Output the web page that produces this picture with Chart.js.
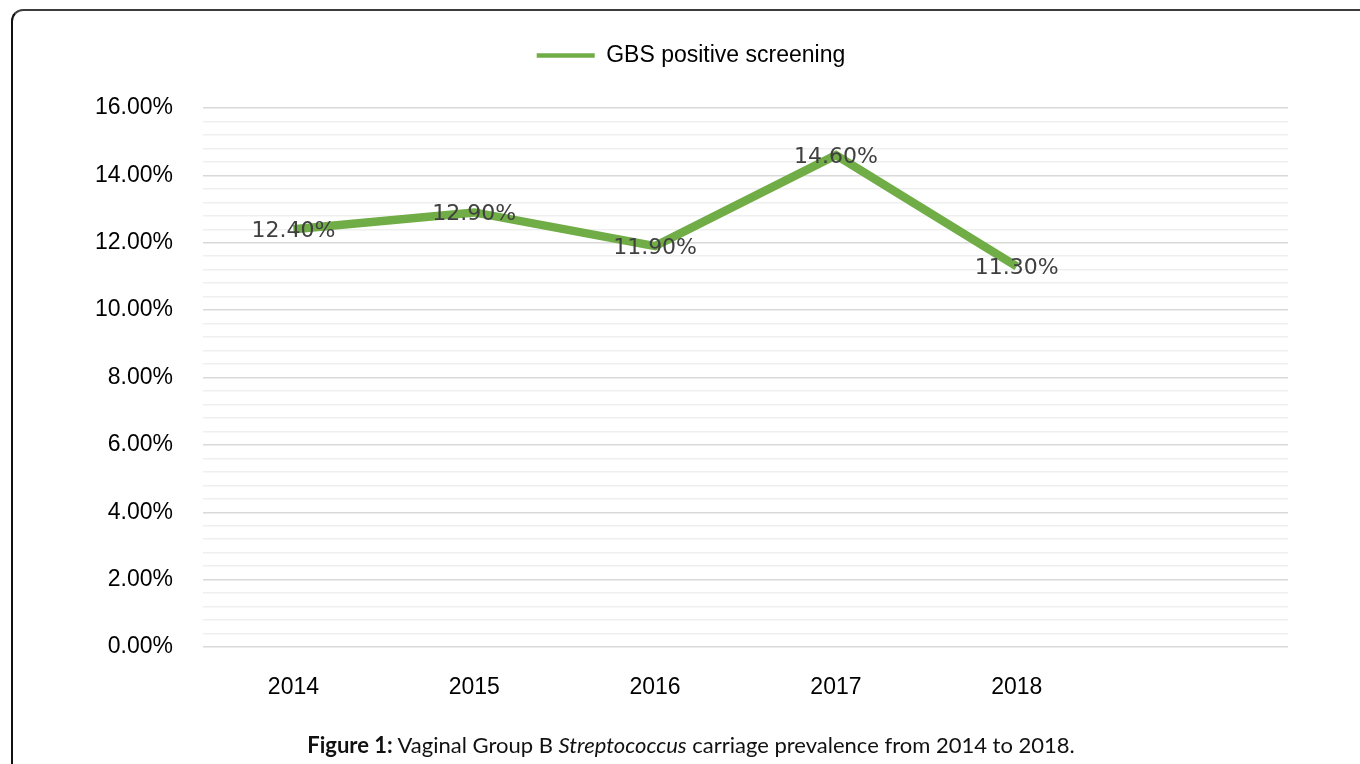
<!DOCTYPE html>
<html>
<head>
<meta charset="utf-8">
<title>GBS positive screening</title>
<script src="https://cdn.jsdelivr.net/npm/chart.js@4/dist/chart.umd.min.js"></script>
<style>
  body { margin: 0; background: #fff; }
  #quadro {
    position: absolute; left: 11px; top: 9px; width: 1400px; height: 800px;
    border-top: 2px solid #3c3c3c; border-left: 2px solid #111; border-radius: 12px;
  }
  #grafico { position: absolute; left: 0; top: 0; }
  #legenda {
    position: absolute; left: 0; width: 1382px; top: 731px; text-align: center;
    font-family: Lato, "Open Sans", sans-serif; font-size: 22px; color: #111;
  }
</style>
</head>
<body>
<div id="quadro"></div>
<canvas id="grafico" width="1360" height="764"></canvas>
<div id="legenda"><b>Figure 1:</b> Vaginal Group B <i>Streptococcus</i> carriage prevalence from 2014 to 2018.</div>
<script>
const anos = ['2014', '2015', '2016', '2017', '2018', ''];
const positivos = [12.4, 12.9, 11.9, 14.6, 11.3, null];
const nomeSerie = 'GBS positive screening';
const eixoMin = 0;
const eixoMax = 16;
const passo = 0.4;

// Rótulos de valor desenhados em cima de cada ponto
const rotulosValores = {
  id: 'rotulosValores',
  afterDatasetsDraw(chart) {
    const ctx = chart.ctx;
    const meta = chart.getDatasetMeta(0);
    ctx.save();
    ctx.font = '22px "DejaVu Sans"';
    ctx.fillStyle = '#404040';
    ctx.textAlign = 'center';
    ctx.textBaseline = 'middle';
    meta.data.forEach((ponto, i) => {
      const v = chart.data.datasets[0].data[i];
      if (v === null) return;
      ctx.fillText(v.toFixed(2) + '%', ponto.x, ponto.y + 2);
    });
    ctx.restore();
  }
};

const ctxGrafico = document.getElementById('grafico').getContext('2d');
const fonteEixo = { family: '"Liberation Sans", Arial', size: 23 };

const grafico = new Chart(ctxGrafico, {
  type: 'line',
  data: {
    labels: anos,
    datasets: [{
      label: nomeSerie,
      data: positivos,
      borderColor: '#70AD47',
      backgroundColor: '#70AD47',
      borderWidth: 8.5,
      pointRadius: 0,
      tension: 0
    }]
  },
  options: {
    responsive: false,
    animation: false,
    layout: { padding: { top: 2, right: 72, bottom: 57, left: 94 } },
    plugins: {
      tooltip: { enabled: false },
      legend: {
        position: 'top',
        labels: {
          usePointStyle: true,
          pointStyle: 'line',
          pointStyleWidth: 58,
          color: '#000',
          padding: 42,
          font: fonteEixo,
          generateLabels(chart) {
            const itens = Chart.defaults.plugins.legend.labels.generateLabels(chart);
            itens.forEach(item => { item.lineWidth = 4.5; });
            return itens;
          }
        }
      },
      // espaço vazio entre a legenda e o gráfico
      subtitle: {
        display: true,
        text: ' ',
        weight: 500,
        font: { size: 10 },
        padding: { top: 0, bottom: 19 }
      }
    },
    scales: {
      x: {
        offset: true,
        grid: { display: false, drawTicks: false },
        border: { display: false },
        ticks: { color: '#000', padding: 27, font: fonteEixo },
        afterFit(scale) { scale.height = 60; }
      },
      y: {
        min: eixoMin,
        max: eixoMax,
        border: { display: false },
        grid: {
          drawTicks: false,
          lineWidth: 1.5,
          color: c => (c.index % 5 === 0 ? '#d9d9d9' : '#efefef')
        },
        ticks: {
          stepSize: passo,
          autoSkip: false,
          color: '#000',
          padding: 30,
          font: fonteEixo,
          callback: (valor, indice) => (indice % 5 === 0 ? Number(valor).toFixed(2) + '%' : '')
        },
        afterFit(scale) { scale.width = 109; }
      }
    }
  },
  plugins: [rotulosValores]
});
</script>
</body>
</html>
